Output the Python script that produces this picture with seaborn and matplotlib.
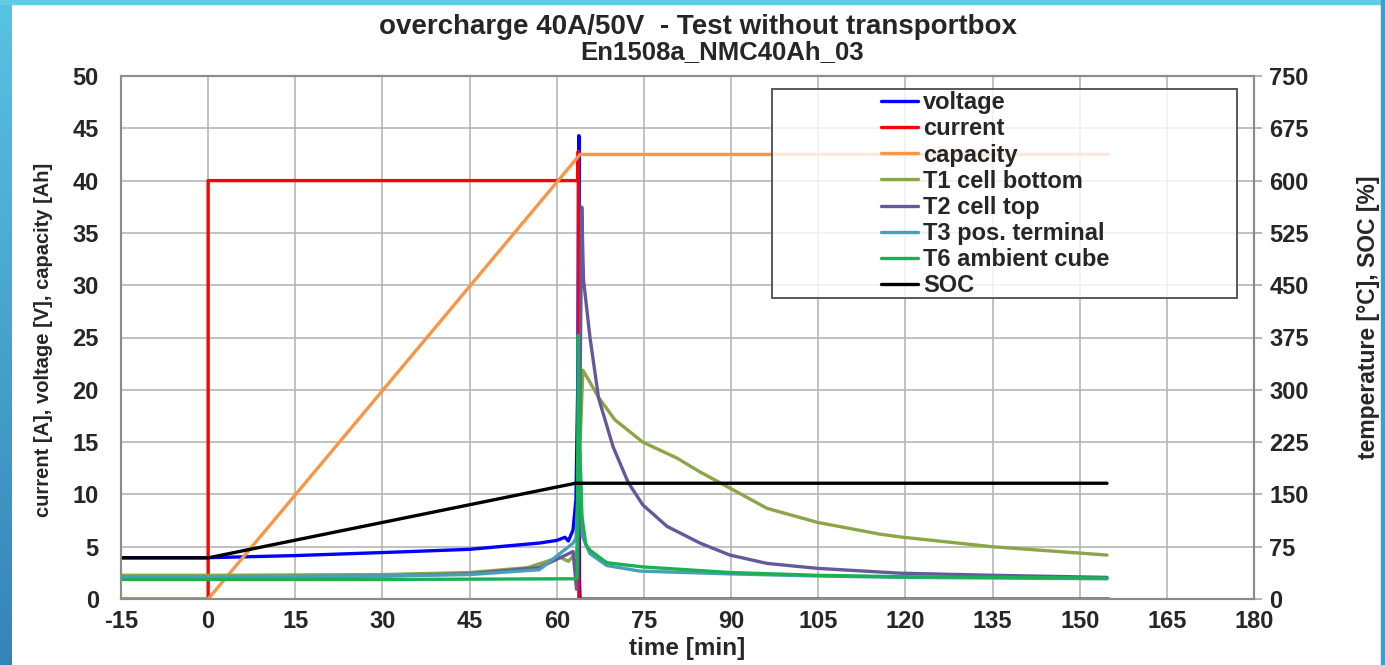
import numpy as np
import pandas as pd
import matplotlib
matplotlib.use("Agg")
import matplotlib.pyplot as plt
import seaborn as sns
from matplotlib.patches import Rectangle
from matplotlib.colors import LinearSegmentedColormap

# ---------------- data ----------------
x_ticks = list(range(-15, 181, 15))
y_left_ticks = list(range(0, 51, 5))
y_right_ticks = list(range(0, 751, 75))

# left axis: current [A], voltage [V], capacity [Ah]
t_volt = [-15, 0, 15, 33, 45, 57, 60, 61.4, 62.0, 62.8, 63.3, 63.6, 63.8, 63.9, 64.0]
volt = [3.95, 3.95, 4.15, 4.5, 4.75, 5.35, 5.6, 5.9, 5.55, 6.6, 9.5, 20.0, 44.3, 2.0, 0.0]

t_curr = [-15, 0, 0, 30, 63.6, 63.7, 63.8, 155]
curr = [0, 0, 40, 40, 40, 42.8, 0, 0]

t_cap = [-15, 0, 64.0, 155]
cap = [0, 0, 42.5, 42.5]

# right axis: temperature [°C], SOC [%]
t_t1 = [-15, 0, 30, 45, 55, 60.5, 62.0, 63.5, 64.0, 64.5, 65.5, 67.2, 70.0, 74.8, 80.7, 84.7,
        89.8, 96.2, 104.8, 115.6, 119.1, 134.9, 154.7]
t1 = [34, 34, 35, 38, 45, 60, 54, 68, 225, 328, 314, 289, 257, 225, 202, 182,
      159, 130, 110, 93, 89, 75, 63]

t_t2 = [-15, 0, 30, 45, 57, 62.8, 63.4, 63.9, 64.3, 64.6, 65.7, 67.2, 69.7, 72.3, 74.8, 79.0,
        84.7, 89.8, 96.2, 104.8, 119.1, 135, 154.7]
t2 = [31, 31, 33, 36, 45, 68, 14, 200, 562, 458, 376, 288, 218, 167, 135, 104,
      80, 63, 51, 44, 37, 34, 31]

t_t3 = [-15, 0, 30, 45, 57, 62.8, 63.3, 64.0, 64.4, 65.7, 68.6, 74.3, 89.8, 104.8, 119.1, 154.7]
t3 = [32, 32, 33, 35, 42, 80, 87, 210, 90, 65, 48, 40, 36, 33, 31, 29]

t_t6 = [-15, 30, 62.9, 63.5, 63.7, 63.9, 64.3, 65.0, 65.7, 68.6, 74.8, 89.8, 104.8, 119.1, 154.7]
t6 = [28, 28, 29, 30, 378, 225, 120, 78, 70, 52, 46, 38, 34, 32, 30]

t_soc = [-15, 0, 63.2, 154.7]
soc = [59, 59, 166, 166]

labels = ["voltage", "current", "capacity", "T1 cell bottom", "T2 cell top",
          "T3 pos. terminal", "T6 ambient cube", "SOC"]
colors = ["#0000ff", "#ff0000", "#f79646", "#8aa646", "#66589a",
          "#4a9fb8", "#19b153", "#000000"]

# ---------------- style ----------------
sns.set_style("white")
plt.rcParams["font.family"] = ["Liberation Sans", "DejaVu Sans"]
plt.rcParams["font.weight"] = "bold"
plt.rcParams["axes.unicode_minus"] = False

W, H = 1385, 665
fig = plt.figure(figsize=(W / 100, H / 100), dpi=100)
fig.patch.set_facecolor("white")

# slide decoration (blue frame)
gax = fig.add_axes([0, 0, 12 / W, 1])
grad = np.linspace(0, 1, 256).reshape(-1, 1)
cmap = LinearSegmentedColormap.from_list("slide", ["#58c3e3", "#3584b7"])
gax.imshow(grad, aspect="auto", cmap=cmap)
gax.axis("off")
fig.patches.append(Rectangle((0, 1 - 4 / H), 1, 4 / H, transform=fig.transFigure,
                             color="#5fcbe7", zorder=0))
fig.patches.append(Rectangle((1381 / W, 0), 4 / W, 1, transform=fig.transFigure,
                             color="#3a9fcc", zorder=0))

ax = fig.add_axes([121 / W, 1 - 599 / H, (1254 - 121) / W, (599 - 76) / H])
ax2 = ax.twinx()

lw = 2.4
series_left = [(t_volt, volt), (t_curr, curr), (t_cap, cap)]
series_right = [(t_t1, t1), (t_t2, t2), (t_t3, t3), (t_t6, t6), (t_soc, soc)]

for i, (tt, vv) in enumerate(series_left):
    sns.lineplot(x=tt, y=vv, ax=ax, color=colors[i], lw=lw, estimator=None,
                 sort=False, legend=False)
for j, (tt, vv) in enumerate(series_right):
    sns.lineplot(x=tt, y=vv, ax=ax2, color=colors[3 + j], lw=lw, estimator=None,
                 sort=False, legend=False)

ax.set_xlim(-15, 180)
ax.set_ylim(0, 50)
ax2.set_ylim(0, 750)
ax.set_xticks(x_ticks)
ax.set_yticks(y_left_ticks)
ax2.set_yticks(y_right_ticks)
ax.set_xlabel("")
ax.set_ylabel("")
ax2.set_ylabel("")

ax.grid(True, color="#b0b0b0", lw=1.1)
ax.set_axisbelow(True)
for a in (ax, ax2):
    for s in a.spines.values():
        s.set_color("#8c8c8c")
        s.set_linewidth(1.5)

ax.tick_params(axis="y", length=0, pad=16, labelsize=17)
ax.tick_params(axis="x", length=0, pad=8, labelsize=17)
ax2.tick_params(axis="y", length=6, width=1.1, color="#a0a0a0", pad=5, labelsize=17,
                direction="out")
for lab in ax.get_xticklabels() + ax.get_yticklabels() + ax2.get_yticklabels():
    lab.set_fontweight("bold")

# legend frame (semi-transparent) + legend entries
ax2.add_patch(Rectangle((0.5746, 0.5755), 0.4104, 0.3995, transform=ax2.transAxes,
                        facecolor=(1, 1, 1, 0.8), edgecolor="#595959", lw=1.4,
                        zorder=5))
handles = ax.get_lines() + ax2.get_lines()
leg = ax2.legend(handles, labels, loc="upper left", bbox_to_anchor=(0.6708, 0.971),
                 frameon=False, borderpad=0, borderaxespad=0, handlelength=1.57,
                 handletextpad=0.21, labelspacing=0.135,
                 prop={"weight": "bold", "size": 17})
leg.set_zorder(6)

# texts
fig.text(698 / W, 1 - 27 / H, "overcharge 40A/50V  - Test without transportbox",
         ha="center", va="center", fontsize=20, fontweight="bold")
fig.text(722 / W, 1 - 52 / H, "En1508a_NMC40Ah_03", ha="center", va="center",
         fontsize=18.5, fontweight="bold")
fig.text(687 / W, 1 - 648 / H, "time [min]", ha="center", va="center",
         fontsize=17.5, fontweight="bold")
fig.text(44 / W, 1 - 340 / H, "current [A], voltage [V], capacity [Ah]", rotation=90,
         ha="center", va="center", fontsize=14.5, fontweight="bold")
fig.text(1368 / W, 1 - 317 / H, "temperature [°C], SOC [%]", rotation=90,
         ha="center", va="center", fontsize=16.5, fontweight="bold")

fig.savefig("out.png", dpi=100)
